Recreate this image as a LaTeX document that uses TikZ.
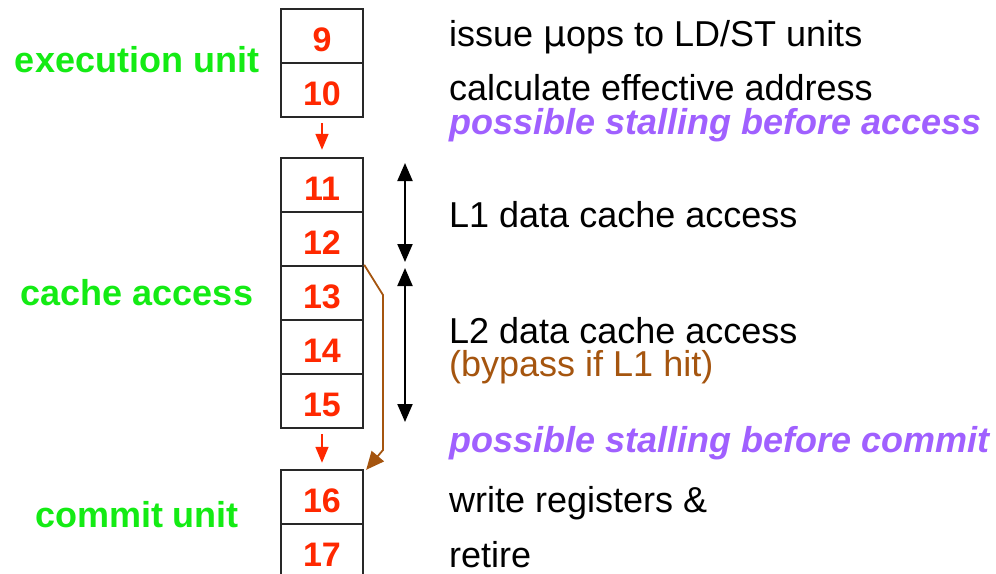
\documentclass[tikz,border=0pt]{standalone}
\usepackage{fontspec}
\setmainfont{Liberation Sans}
\usetikzlibrary{arrows.meta}
\definecolor{numred}{RGB}{255,40,0}
\definecolor{labgreen}{RGB}{20,235,20}
\definecolor{stallpurple}{RGB}{160,96,255}
\definecolor{bypassbrown}{RGB}{165,85,15}
\definecolor{boxline}{RGB}{40,40,40}
\tikzset{
  stage/.style={draw=boxline, line width=2.4pt, minimum width=82pt, minimum height=54pt,
    inner sep=0pt, text height=30pt, text depth=0pt,
    font=\fontsize{34}{34}\selectfont\bfseries, text=numred},
  desc/.style={anchor=base west, inner sep=0pt, font=\fontsize{36}{36}\selectfont},
  stall/.style={anchor=base west, inner sep=0pt, text=stallpurple,
    font=\fontsize{36}{36}\selectfont\bfseries\itshape},
  unitlab/.style={anchor=base, inner sep=0pt, text=labgreen,
    font=\fontsize{36}{36}\selectfont\bfseries},
  flow/.style={numred, line width=1.6pt, -{Triangle[width=13pt,length=16pt]}},
  span/.style={black, line width=2pt, {Triangle[width=15pt,length=18pt]}-{Triangle[width=15pt,length=18pt]}},
  bypass/.style={bypassbrown, line width=1.8pt, -{Triangle[width=16pt,length=18pt]}}
}
\begin{document}
\begin{tikzpicture}[x=1pt,y=-1pt]
\useasboundingbox (0,0) rectangle (996,573);
% stage boxes
\node[stage] (s9)  at (322,36)  {9};
\node[stage] (s10) at (322,90)  {10};
\node[stage] (s11) at (322,185) {11};
\node[stage] (s12) at (322,239) {12};
\node[stage] (s13) at (322,293) {13};
\node[stage] (s14) at (322,347) {14};
\node[stage] (s15) at (322,401) {15};
\node[stage] (s16) at (322,497) {16};
\node[stage] (s17) at (322,551) {17};
% flow arrows
\draw[flow, shorten <=5pt, shorten >=7pt] (s10.south) -- (s11.north);
\draw[flow, shorten <=5pt, shorten >=6pt] (s15.south) -- (s16.north);
% L1 / L2 spans
\coordinate (a1) at (405,163);
\coordinate (b1) at (405,262);
\coordinate (a2) at (405,268);
\coordinate (b2) at (405,422);
\draw[span] (a1) -- (b1);
\draw[span] (a2) -- (b2);
% bypass path
\coordinate (k1) at (383,295);
\coordinate (k2) at (383,450);
\draw[bypass] (s13.north east) -- (k1) -- (k2) -- ([xshift=2pt,yshift=-1pt]s16.north east);
% descriptions
\node[desc] (t1) at (449,46)  {issue \fontspec{DejaVu Sans}μ\fontspec{Liberation Sans}ops to LD/ST units};
\node[desc] (t2) at (449,100) {calculate effective address};
\node[stall] (t3) at (449,134) {possible stalling before access};
\node[desc] (t4) at (449,227) {L1 data cache access};
\node[desc] (t5) at (449,343) {L2 data cache access};
\node[desc, text=bypassbrown] (t6) at (449,376) {(bypass if L1 hit)};
\node[stall] (t7) at (449,452) {possible stalling before commit};
\node[desc] (t8) at (449,512) {write registers \&};
\node[desc] (t9) at (449,567) {retire};
% unit labels
\node[unitlab] (u1) at (137,72)  {execution unit};
\node[unitlab] (u2) at (137,305) {cache access};
\node[unitlab] (u3) at (137,527) {commit unit};
\end{tikzpicture}
\end{document}
